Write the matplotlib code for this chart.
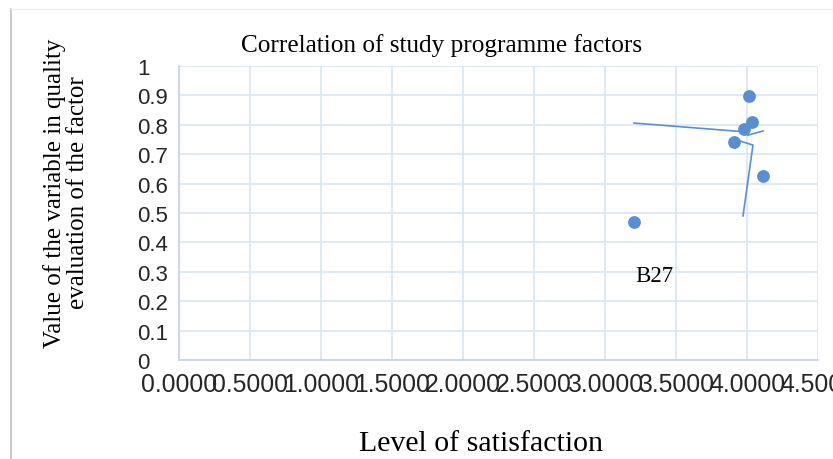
import numpy as np
import matplotlib.pyplot as plt
from matplotlib.lines import Line2D

# factor points (level of satisfaction, quality evaluation value)
sat = [3.204, 4.014, 4.035, 3.979, 3.908, 4.113]
val = [0.469, 0.898, 0.810, 0.786, 0.741, 0.626]

# data label leader lines left behind in the original chart
leader_a_x = [3.204, 3.986]
leader_a_y = [0.806, 0.776]
leader_b_x = [4.007, 4.113]
leader_b_y = [0.765, 0.779]
leader_c_x = [3.951, 4.042, 3.972]
leader_c_y = [0.745, 0.731, 0.490]

label_text = "B27"
label_pos = (3.21, 0.287)

xticks = np.arange(0, 4.51, 0.5)
yticks = np.arange(0, 1.01, 0.1)

blue = '#5a8fcf'
grid_c = '#dce6f4'
serif = 'Liberation Serif'
sans = 'Liberation Sans'

fig = plt.figure(figsize=(8.33, 4.6), dpi=100)
ax = fig.add_axes([179 / 833, 1 - 361 / 460, (818 - 179) / 833, (361 - 67) / 460])

for lx, ly in [(leader_a_x, leader_a_y), (leader_b_x, leader_b_y), (leader_c_x, leader_c_y)]:
    ax.plot(lx, ly, color=blue, lw=1.2, zorder=3)

ax.scatter(sat, val, s=85, color=blue, zorder=4, linewidths=0)
ax.text(label_pos[0], label_pos[1], label_text, fontfamily=serif, fontsize=16.5,
        ha='left', va='center')

ax.set_xlim(0, 4.5)
ax.set_ylim(0, 1)
ax.set_xticks(xticks)
ax.set_xticklabels([f"{t:.4f}" for t in xticks], fontfamily=sans, fontsize=17.8, color='#262626')
ax.set_yticks(yticks)
ax.set_yticklabels([f"{t:g}" for t in yticks], fontfamily=sans, fontsize=16, color='#262626', ha='left')
ax.tick_params(axis='y', length=0, pad=30)
ax.tick_params(axis='x', length=0, pad=9)
ax.grid(True, color=grid_c, lw=1.3)
ax.set_axisbelow(True)
for side in ['top', 'right']:
    ax.spines[side].set_visible(False)
for side in ['left', 'bottom']:
    ax.spines[side].set_color('#c5d6ee')
    ax.spines[side].set_linewidth(1.3)

fig.text(442 / 833, 1 - 46 / 460, "Correlation of study programme factors",
         fontfamily=serif, fontsize=18.2, ha='center', va='center')
fig.text(481 / 833, 1 - 451 / 460, "Level of satisfaction",
         fontfamily=serif, fontsize=21.5, ha='center', va='baseline')
fig.text(66 / 833, 1 - 193 / 460, "Value of the variable in quality\nevaluation of the factor",
         fontfamily=serif, fontsize=18, ha='center', va='center', rotation=90,
         linespacing=1.05, multialignment='center')

# outer frame edges
fig.add_artist(Line2D([11 / 833, 11 / 833], [0, 1 - 10 / 460], color='#bfbfbf', lw=1.2))
fig.add_artist(Line2D([11 / 833, 1], [1 - 10 / 460, 1 - 10 / 460], color='#eceff3', lw=1.0))

fig.savefig('out.png', dpi=100)
